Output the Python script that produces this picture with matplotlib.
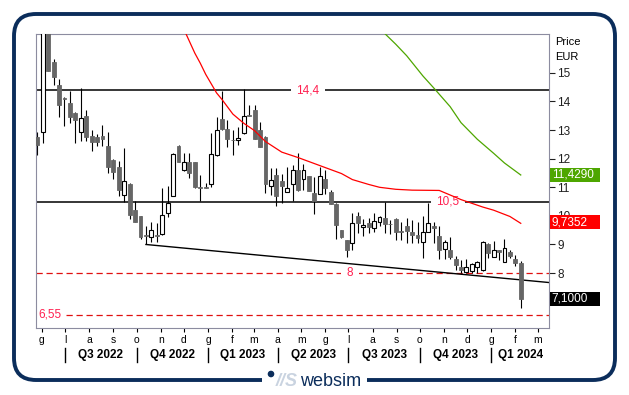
import pandas as pd
import matplotlib
matplotlib.use("Agg")
import matplotlib.pyplot as plt
import matplotlib.dates as mdates
from matplotlib.patches import FancyBboxPatch, Rectangle, Circle
from matplotlib.transforms import blended_transform_factory

plt.rcParams['font.family'] = ['Liberation Sans', 'DejaVu Sans']

# weekly OHLC
opens = [12.75, 12.93, 16.90, 15.37, 14.58, 14.13, 13.95, 13.59, 12.93, 13.50,
         12.80, 12.77, 12.80, 12.45, 11.96, 11.72, 10.73, 11.12, 10.21, 9.98,
         9.32, 9.27, 9.33, 9.37, 10.09, 10.71, 12.46, 11.62, 11.89, 11.89,
         11.01, 11.01, 11.11, 12.12, 13.38, 13.04, 12.66, 12.64, 12.89, 13.51,
         13.72, 13.00, 12.75, 11.06, 11.43, 11.22, 10.85, 11.10, 11.59, 11.28,
         11.40, 10.80, 10.76, 11.29, 10.85, 10.42, 9.51, 9.16, 9.04, 10.00,
         9.60, 9.76, 9.59, 9.77, 9.92, 9.73, 9.90, 9.47, 9.63, 9.45,
         9.34, 9.08, 9.45, 9.65, 9.30, 8.85, 8.81, 8.48, 8.23, 8.05,
         8.09, 8.21, 8.11, 9.01, 8.58, 8.81, 8.40, 8.75, 8.48, 8.37]
highs = [12.95, 17.20, 17.00, 15.49, 14.78, 14.16, 14.37, 13.62, 14.48, 13.71,
         13.01, 12.86, 13.17, 12.94, 11.98, 11.93, 12.38, 11.15, 10.51, 10.00,
         9.63, 9.80, 9.74, 10.97, 11.05, 12.20, 12.47, 12.21, 12.21, 11.90,
         11.43, 11.16, 12.91, 13.47, 14.38, 13.35, 13.02, 13.12, 14.42, 13.87,
         13.88, 13.30, 12.78, 11.67, 11.67, 11.46, 11.70, 11.79, 12.21, 11.80,
         11.41, 11.37, 11.72, 11.61, 10.90, 10.44, 9.52, 9.17, 10.09, 10.12,
         9.89, 9.91, 10.09, 10.00, 10.50, 9.86, 9.91, 9.77, 9.92, 9.86,
         9.80, 9.98, 10.44, 9.77, 9.65, 9.16, 9.25, 8.61, 8.46, 8.48,
         8.37, 8.43, 9.13, 9.04, 9.13, 8.82, 9.20, 8.79, 8.63, 8.44]
lows = [12.13, 12.55, 15.06, 14.56, 13.45, 13.15, 13.26, 12.56, 12.63, 12.62,
        12.28, 12.45, 12.45, 11.51, 11.28, 10.68, 10.49, 9.88, 9.78, 9.20,
        9.01, 9.10, 9.10, 9.33, 9.97, 10.69, 11.88, 11.58, 11.31, 10.99,
        10.53, 10.98, 11.00, 12.10, 13.02, 12.42, 12.12, 12.48, 12.88, 13.48,
        12.68, 12.40, 10.80, 10.73, 10.33, 10.44, 10.84, 10.53, 10.88, 10.90,
        10.87, 10.08, 10.75, 10.75, 10.40, 9.18, 9.22, 8.58, 8.81, 9.39,
        9.28, 9.39, 9.42, 9.63, 9.39, 9.37, 9.16, 9.16, 9.04, 9.04,
        9.04, 8.52, 9.44, 9.04, 8.48, 8.48, 8.48, 8.11, 8.00, 7.99,
        8.00, 8.00, 8.09, 8.52, 8.55, 8.46, 8.38, 8.52, 8.25, 6.79]
closes = [12.48, 16.90, 15.08, 14.84, 13.86, 14.10, 13.47, 13.36, 13.41, 12.75,
          12.60, 12.60, 12.70, 11.72, 11.54, 10.91, 11.22, 10.02, 9.80, 9.25,
          9.29, 9.51, 9.30, 10.03, 10.46, 12.17, 11.89, 11.89, 11.51, 11.00,
          10.99, 10.99, 12.17, 13.00, 13.03, 12.68, 12.64, 12.73, 13.50, 13.49,
          12.70, 12.42, 11.10, 11.25, 10.71, 11.03, 10.99, 11.60, 10.91, 11.61,
          10.88, 10.51, 11.38, 10.99, 10.42, 9.69, 9.25, 8.81, 9.74, 9.74,
          9.67, 9.62, 9.83, 9.95, 9.71, 9.70, 9.45, 9.44, 9.48, 9.34,
          9.21, 9.45, 9.74, 9.56, 8.81, 9.10, 8.58, 8.29, 8.11, 8.23,
          8.31, 8.38, 9.10, 8.69, 8.81, 8.75, 8.87, 8.60, 8.37, 7.10]

# moving averages (week index, value)
red_ma_week = [27, 29, 30, 31, 33, 34, 36, 38, 40, 42, 45, 48, 51, 54, 56, 58,
               61, 63, 66, 69, 74, 76, 78, 82, 84, 87, 89]
red_ma = [16.52, 15.69, 15.34, 14.95, 14.30, 14.07, 13.56, 13.24, 12.98, 12.60,
          12.23, 12.04, 11.83, 11.62, 11.48, 11.27, 11.10, 11.00, 10.93, 10.90,
          10.89, 10.73, 10.57, 10.31, 10.20, 9.98, 9.74]
green_ma_week = [64, 66, 68, 71, 73, 76, 78, 81, 84, 86, 89]
green_ma = [16.37, 16.00, 15.60, 14.89, 14.47, 13.82, 13.26, 12.68, 12.19, 11.85, 11.43]

levels_solid = [14.4, 10.5]
levels_dash = [8.0, 6.55]
trend_week = 20
trend_start = 9.00
trend_end = 7.67

month_letters = {1: 'g', 2: 'f', 3: 'm', 4: 'a', 5: 'm', 6: 'g',
                 7: 'l', 8: 'a', 9: 's', 10: 'o', 11: 'n', 12: 'd'}
quarters = ['Q3 2022', 'Q4 2022', 'Q1 2023', 'Q2 2023', 'Q3 2023', 'Q4 2023', 'Q1 2024']

weeks = pd.date_range("2022-05-26", periods=len(opens), freq="7D")
wnum = mdates.date2num(weeks)
x0 = wnum[0] - 0.24 * 7
x1 = wnum[0] + 94.2 * 7

fig = plt.figure(figsize=(6.29, 3.95), dpi=100)
fig.patch.set_facecolor('white')

# frame and logo
bg = fig.add_axes([0, 0, 1, 1], zorder=0)
bg.set_xlim(0, 629)
bg.set_ylim(395, 0)
bg.axis('off')
navy = '#0b2d5b'
bg.add_patch(FancyBboxPatch((14, 14), 601, 366, boxstyle='round,pad=0,rounding_size=22',
                            fill=False, edgecolor=navy, linewidth=2.8))
bg.add_patch(Rectangle((262, 372), 105, 16, facecolor='white', edgecolor='none'))
bg.add_patch(Circle((271, 374), 2.6, color=navy))
bg.text(287, 382, '//S', color='#c9d3e0', fontsize=13, fontweight='bold', style='italic',
        ha='center', va='center')
bg.text(331, 382, 'websim', color=navy, fontsize=13, ha='center', va='center')

ax = fig.add_axes([36 / 629, 1 - 328 / 395, 513 / 629, 294 / 395], zorder=1)
ax.set_facecolor('white')

# candles
ax.vlines(wnum, lows, highs, color='black', linewidth=0.8, zorder=2)
for xi, o, c in zip(wnum, opens, closes):
    h = max(abs(c - o), 0.025)
    if c > o:
        ax.bar(xi, h, bottom=o, width=5, facecolor='white', edgecolor='black',
               linewidth=0.8, zorder=3)
    else:
        ax.bar(xi, h, bottom=c, width=5, facecolor='#666666', edgecolor='#666666',
               linewidth=0.6, zorder=3)

# moving averages
ax.plot(wnum[red_ma_week], red_ma, color='#ff0000', linewidth=0.9, zorder=4)
ax.plot(wnum[green_ma_week], green_ma, color='#4ea600', linewidth=0.9, zorder=4)

# levels
lab_col = '#ff2050'
for lv in levels_solid:
    ax.axhline(lv, color='black', linewidth=1.1, zorder=1)
for lv in levels_dash:
    ax.axhline(lv, color='#e01010', linewidth=0.9, linestyle=(0, (5, 3)), zorder=1)
box = dict(boxstyle='square,pad=0.45', facecolor='white', edgecolor='none')
ax.text(0.530, 14.4, '14,4', transform=blended_transform_factory(ax.transAxes, ax.transData),
        color=lab_col, fontsize=8.5, ha='center', va='center', bbox=box, zorder=2)
ax.text(0.803, 10.5, '10,5', transform=blended_transform_factory(ax.transAxes, ax.transData),
        color=lab_col, fontsize=8.5, ha='center', va='center', bbox=box, zorder=2)
ax.text(0.612, 8.0, '8', transform=blended_transform_factory(ax.transAxes, ax.transData),
        color=lab_col, fontsize=8.5, ha='center', va='center', bbox=box, zorder=2)
ax.text(0.004, 6.55, '6,55', transform=blended_transform_factory(ax.transAxes, ax.transData),
        color=lab_col, fontsize=8.5, ha='left', va='center', bbox=box, zorder=2)

# trendline
slope = (trend_end - trend_start) / (x1 - wnum[trend_week])
ax.plot([wnum[trend_week], x1], [trend_start, trend_start + slope * (x1 - wnum[trend_week])],
        color='black', linewidth=1.0, zorder=2)

ax.set_xlim(x0, x1)
ax.set_ylim(6.08, 16.36)

for s in ax.spines.values():
    s.set_color('#8c8ca0')
    s.set_linewidth(0.8)

# y axis on the right
ax.yaxis.tick_right()
ax.set_yticks(range(8, 16))
ax.tick_params(axis='y', length=4, width=0.8, pad=2, labelsize=8.5, colors='#202020')
fig.text(555 / 629, 1 - 42 / 395, 'Price', fontsize=8, ha='left', va='center')
fig.text(555 / 629, 1 - 57 / 395, 'EUR', fontsize=8, ha='left', va='center')

tr = blended_transform_factory(ax.transAxes, ax.transData)
for val, col, txt in [(11.44, '#4ea600', '11,4290'), (9.77, '#ff0000', '9,7352'),
                      (7.10, '#000000', '7,1000')]:
    ax.add_patch(Rectangle((1.002, val - 0.245), 0.097, 0.49, transform=tr, facecolor=col,
                           edgecolor='none', clip_on=False, zorder=5))
    ax.text(1.005, val, txt, transform=tr, color='white', fontsize=8.5, ha='left',
            va='center', clip_on=False, zorder=6)

# month ticks
months = pd.date_range('2022-06-01', '2024-03-01', freq='MS')
ax.set_xticks(mdates.date2num(months))
ax.set_xticklabels([month_letters[m.month] for m in months])
ax.tick_params(axis='x', length=3, width=0.8, pad=2, labelsize=7.5)

# quarter separators and labels
qstarts = mdates.date2num(pd.date_range('2022-07-01', '2024-01-01', freq='QS'))
trq = blended_transform_factory(ax.transData, ax.transAxes)
for i, q in enumerate(qstarts):
    ax.plot([q, q], [-0.068, -0.116], color='black', linewidth=1.0, transform=trq, clip_on=False)
    end = qstarts[i + 1] if i + 1 < len(qstarts) else x1
    ax.text((q + end) / 2, -0.092, quarters[i], transform=trq, fontsize=8.5,
            fontweight='bold', ha='center', va='center')

fig.savefig('out.png', dpi=100, facecolor='white')
